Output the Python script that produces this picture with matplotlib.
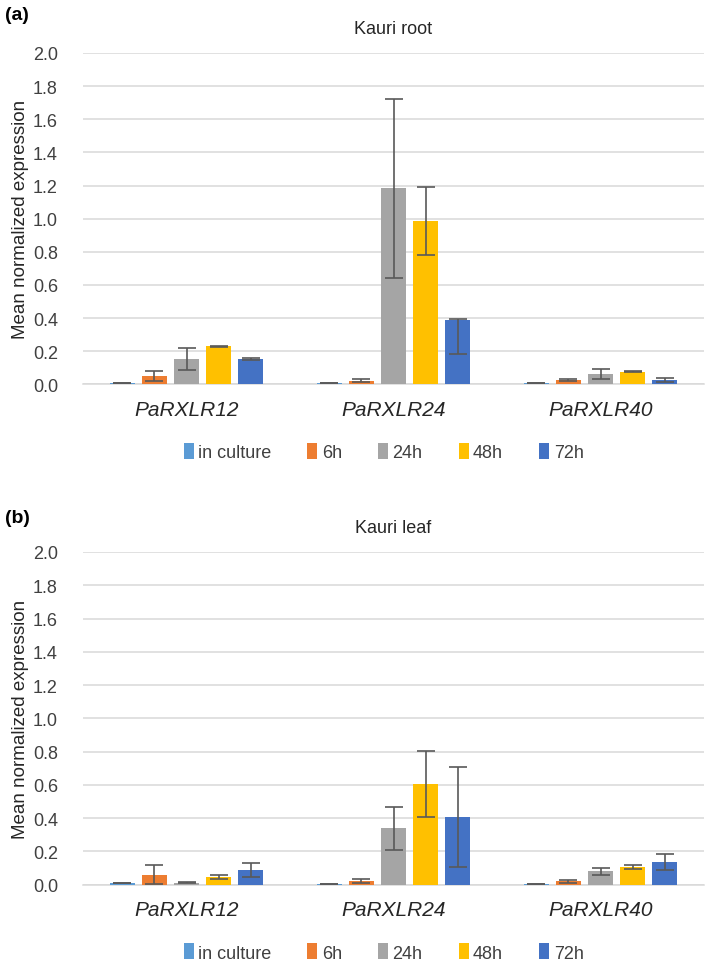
import matplotlib
matplotlib.use("Agg")
import matplotlib.pyplot as plt
import numpy as np

plt.rcParams["font.family"] = ["Liberation Sans", "DejaVu Sans"]

genes = ["PaRXLR12", "PaRXLR24", "PaRXLR40"]
timepoints = ["in culture", "6h", "24h", "48h", "72h"]
colors = ["#5B9BD5", "#ED7D31", "#A5A5A5", "#FFC000", "#4472C4"]

# (a) Kauri root: mean per time point, rows = time points, cols = genes
root_mean = [
    [0.008, 0.006, 0.006],
    [0.052, 0.022, 0.026],
    [0.153, 1.185, 0.060],
    [0.230, 0.984, 0.076],
    [0.153, 0.389, 0.027],
]
root_err_low = [
    [0.0, 0.0, 0.0],
    [0.032, 0.010, 0.007],
    [0.066, 0.540, 0.030],
    [0.004, 0.205, 0.004],
    [0.008, 0.205, 0.014],
]
root_err_high = [
    [0.0, 0.0, 0.0],
    [0.031, 0.010, 0.007],
    [0.066, 0.535, 0.030],
    [0.004, 0.206, 0.004],
    [0.008, 0.003, 0.014],
]

# (b) Kauri leaf
leaf_mean = [
    [0.008, 0.006, 0.006],
    [0.060, 0.020, 0.020],
    [0.012, 0.338, 0.079],
    [0.045, 0.605, 0.104],
    [0.087, 0.405, 0.137],
]
leaf_err = [
    [0.0, 0.0, 0.0],
    [0.057, 0.013, 0.010],
    [0.005, 0.129, 0.021],
    [0.013, 0.201, 0.013],
    [0.040, 0.300, 0.050],
]

fig = plt.figure(figsize=(7.09, 9.62), dpi=100)

H = 962.0
W = 709.0
left = 83 / W
width = (704 - 83) / W


def draw_panel(ax, means, err_lo, err_hi, title):
    x = np.arange(len(genes))
    step = 0.155
    bw = 0.121
    for i, tp in enumerate(timepoints):
        xs = x + (i - 2) * step
        ax.bar(xs, means[i], width=bw, color=colors[i], label=tp, zorder=3)
        ax.errorbar(xs, means[i], yerr=[err_lo[i], err_hi[i]], fmt="none",
                    ecolor="#595959", elinewidth=1.2, capsize=6.5,
                    capthick=1.2, zorder=4)
    ax.set_xlim(-0.5, 2.5)
    ax.set_ylim(0, 2.0)
    ax.set_yticks(np.arange(0, 2.01, 0.2))
    ax.set_yticklabels([f"{v:.1f}" for v in np.arange(0, 2.01, 0.2)],
                       fontsize=13, color="#404040")
    ax.set_xticks(x)
    ax.set_xticklabels(genes, fontsize=15, style="italic", color="#262626")
    ax.tick_params(axis="y", length=0, pad=18)
    ax.tick_params(axis="x", length=0, pad=11)
    ax.grid(axis="y", color="#D9D9D9", linewidth=1.1, zorder=0)
    for s in ("top", "right", "left"):
        ax.spines[s].set_visible(False)
    ax.spines["bottom"].set_color("#D9D9D9")
    ax.spines["bottom"].set_linewidth(1.1)
    ax.text(0.5, 1.074, title, transform=ax.transAxes, ha="center",
            va="center", fontsize=13, color="#262626")
    ax.legend(loc="center", bbox_to_anchor=(0.484, -0.204), ncol=5,
              frameon=False, fontsize=13, handlelength=0.55,
              handleheight=1.0, handletextpad=0.25, columnspacing=2.0,
              labelcolor="#404040")


ax1 = fig.add_axes([left, 1 - 385.4 / H, width, 331.4 / H])
draw_panel(ax1, root_mean, root_err_low, root_err_high, "Kauri root")

ax2 = fig.add_axes([left, 1 - 885.6 / H, width, 332.6 / H])
draw_panel(ax2, leaf_mean, leaf_err, leaf_err, "Kauri leaf")

fig.text(5 / W, 1 - 16 / H, "(a)", fontsize=14, fontweight="bold",
         va="center", ha="left")
fig.text(5 / W, 1 - 519 / H, "(b)", fontsize=14, fontweight="bold",
         va="center", ha="left")

for ax in (ax1, ax2):
    pos = ax.get_position()
    fig.text(21 / W, pos.y0 + pos.height / 2, "Mean normalized expression",
             rotation=90, fontsize=13.5, ha="center", va="center",
             color="#262626")

fig.savefig("out.png", dpi=100)
